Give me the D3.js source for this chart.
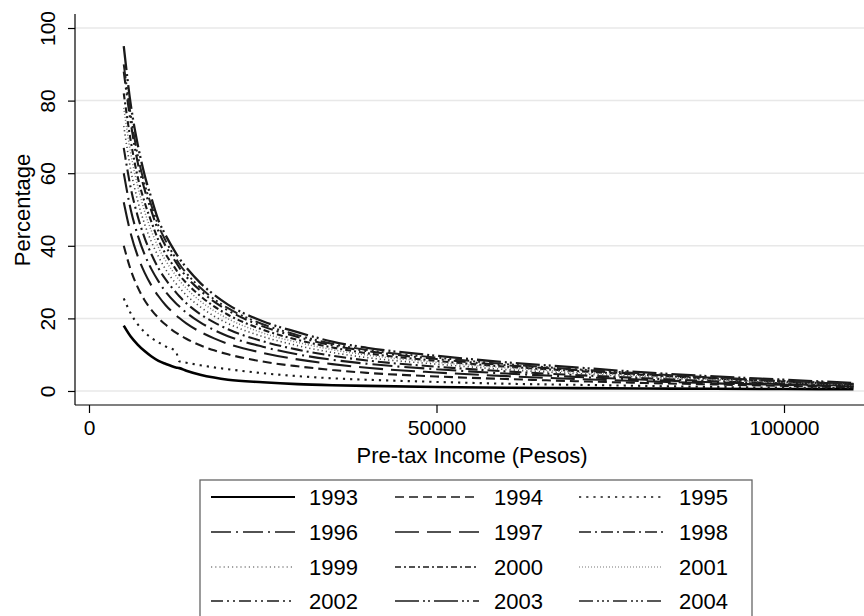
<!DOCTYPE html>
<html>
<head>
<meta charset="utf-8">
<script src="https://cdn.jsdelivr.net/npm/d3@7"></script>
<style>
  body { margin: 0; background: #fff; }
  svg { display: block; }
  text { font-family: "Liberation Sans", Arial, Helvetica, sans-serif; fill: #000; }
</style>
</head>
<body>
<svg id="chart" width="864" height="616"></svg>
<script>
// Pre-tax income grid (pesos)
const income = [5000, 6000, 7000, 8000, 9000, 10000, 11000, 12500, 13000, 14000, 16000, 18000,
                20000, 25000, 30000, 35000, 40000, 50000, 60000, 70000, 80000, 90000, 100000, 110000];

// Percentage by year at each income level
const v1993 = [18, 15.0, 12.8, 11.0, 9.5, 8.3, 7.5, 6.5, 6.3, 5.6, 4.5, 3.7, 3.1, 2.4, 1.9, 1.6, 1.4, 1.1, 0.9, 0.8, 0.7, 0.6, 0.55, 0.5];
const v1994 = [40, 33.4, 28.6, 25.0, 22.3, 20.1, 18.3, 16.1, 15.5, 14.4, 12.6, 11.2, 10.1, 8.1, 6.8, 5.8, 5.0, 4.0, 3.3, 2.7, 2.2, 1.8, 1.4, 1.0];
const v1995 = [25.5, 21.4, 18.4, 16.2, 14.6, 13.4, 12.3, 10.9, 8.2, 7.8, 7.1, 6.5, 6.0, 4.9, 4.1, 3.5, 3.1, 2.5, 2.0, 1.7, 1.4, 1.1, 0.9, 0.8];
const v1996 = [60, 50, 43, 37.6, 33.5, 30.2, 27.4, 24.2, 23.3, 21.6, 18.9, 16.8, 15.1, 12.2, 10.1, 8.6, 7.5, 6.0, 4.8, 3.9, 3.1, 2.4, 1.9, 1.4];
const v1997 = [52, 43.4, 37.2, 32.6, 29, 26.1, 23.7, 20.9, 20.1, 18.6, 16.3, 14.5, 13, 10.5, 8.7, 7.4, 6.4, 5.1, 4.1, 3.3, 2.7, 2.1, 1.7, 1.2];
const v1998 = [67, 56, 48.2, 42.2, 37.6, 33.8, 30.8, 27.2, 26.1, 24.2, 21.2, 18.9, 17, 13.7, 11.4, 9.7, 8.4, 6.7, 5.4, 4.4, 3.5, 2.7, 2.1, 1.5];
const v1999 = [73, 61, 52.5, 46, 41, 37, 33.6, 29.6, 28.5, 26.4, 23.2, 20.6, 18.6, 15, 12.5, 10.6, 9.2, 7.4, 5.9, 4.8, 3.8, 3.0, 2.3, 1.6];
const v2000 = [82, 69, 59, 52, 46.5, 41.5, 37.8, 33.5, 32, 29.8, 26.2, 23.3, 21, 16.9, 14.1, 12, 10.4, 8.3, 6.7, 5.5, 4.4, 3.4, 2.6, 1.8];
const v2001 = [78, 65.5, 56.5, 49.5, 44, 39.5, 36, 31.8, 30.5, 28.3, 24.8, 22.1, 19.9, 16, 13.4, 11.4, 9.9, 7.9, 6.4, 5.2, 4.1, 3.2, 2.4, 1.7];
const v2002 = [88, 74, 63, 55.5, 49.5, 44, 40, 35.5, 34, 31.5, 27.7, 24.6, 22.2, 17.8, 14.9, 12.6, 11.0, 8.8, 7.1, 5.8, 4.6, 3.6, 2.7, 1.9];
const v2003 = [95, 79, 68, 59.5, 53, 47, 43, 38, 36.5, 34, 29.8, 26.5, 23.8, 19.2, 16.2, 13.6, 11.9, 9.7, 7.9, 6.5, 5.1, 4.0, 3.1, 2.2];
const v2004 = [90, 76, 65, 57, 51, 45.5, 41.5, 36.5, 35, 32.5, 28.5, 25.3, 22.8, 18.4, 15.4, 13.0, 11.3, 9.2, 7.4, 6.0, 4.8, 3.7, 2.8, 2.0];

const years = ["1993", "1994", "1995", "1996", "1997", "1998", "1999", "2000", "2001", "2002", "2003", "2004"];
const seriesValues = [v1993, v1994, v1995, v1996, v1997, v1998, v1999, v2000, v2001, v2002, v2003, v2004];

const yTicks = [0, 20, 40, 60, 80, 100];
const xTicks = [0, 50000, 100000];

// line pattern for each year (curve width, legend width)
const styles = {
  "1993": { dash: null,                 color: "#000", width: 2.6, lw: 1.8 },
  "1994": { dash: "9,5",                color: "#1a1a1a", width: 2.1, lw: 1.5 },
  "1995": { dash: "2.2,5",              color: "#1a1a1a", width: 2.1, lw: 1.5 },
  "1996": { dash: "20,5,2,5",           color: "#1a1a1a", width: 2.1, lw: 1.5 },
  "1997": { dash: "24,8",               color: "#1a1a1a", width: 2.1, lw: 1.5 },
  "1998": { dash: "12,4,2,4",           color: "#1a1a1a", width: 2.1, lw: 1.5 },
  "1999": { dash: "1.2,3",              color: "#444", width: 1.6, lw: 1.2 },
  "2000": { dash: "6,3,2,3",            color: "#1a1a1a", width: 2.1, lw: 1.5 },
  "2001": { dash: "1,2",                color: "#777", width: 1.5, lw: 1.1 },
  "2002": { dash: "12,4,2,4,2,4",       color: "#1a1a1a", width: 2.1, lw: 1.5 },
  "2003": { dash: "24,4,2,3,2,4",       color: "#1a1a1a", width: 2.3, lw: 1.6 },
  "2004": { dash: "14,4,2,3,2,3,2,4",   color: "#222", width: 2.0, lw: 1.5 }
};

const svg = d3.select("#chart");

const x = d3.scaleLinear().domain([-2014, 111510]).range([75, 864]);
const y = d3.scaleLinear().domain([-3.86, 103.86]).range([405, 14]);

// gridlines
svg.append("g")
  .selectAll("line")
  .data(yTicks)
  .join("line")
  .attr("x1", 75).attr("x2", 864)
  .attr("y1", d => y(d)).attr("y2", d => y(d))
  .attr("stroke", "#e8e8e8").attr("stroke-width", 1.5);

// curves
const line = d3.line()
  .x(d => x(d[0]))
  .y(d => y(d[1]))
  .curve(d3.curveMonotoneX);

years.forEach((yr, i) => {
  const st = styles[yr];
  const pts = income.map((inc, j) => [inc, seriesValues[i][j]]);
  svg.append("path")
    .datum(pts)
    .attr("d", line)
    .attr("fill", "none")
    .attr("stroke", st.color)
    .attr("stroke-width", st.width)
    .attr("stroke-dasharray", st.dash);
});

// y axis
const yAxis = svg.append("g")
  .attr("transform", "translate(75,0)")
  .call(d3.axisLeft(y).tickValues(yTicks).tickSize(7).tickFormat(d3.format("d")));
yAxis.select(".domain").attr("stroke", "#000").attr("stroke-width", 1.2).attr("d", "M0,14V405");
yAxis.selectAll(".tick line").attr("stroke", "#000").attr("stroke-width", 1.2);
yAxis.selectAll(".tick text")
  .attr("x", 0).attr("dy", 0)
  .attr("transform", "translate(-20,0) rotate(-90)")
  .attr("text-anchor", "middle")
  .attr("font-size", 21)
  .attr("font-family", "Liberation Sans, Arial, sans-serif");

// x axis
const xAxis = svg.append("g")
  .attr("transform", "translate(0,405)")
  .call(d3.axisBottom(x).tickValues(xTicks).tickSize(8).tickFormat(d3.format("d")));
xAxis.select(".domain").attr("stroke", "#000").attr("stroke-width", 1.2).attr("d", "M75,0H864");
xAxis.selectAll(".tick line").attr("stroke", "#000").attr("stroke-width", 1.2);
xAxis.selectAll(".tick text")
  .attr("y", 30).attr("dy", 0)
  .attr("font-size", 21)
  .attr("font-family", "Liberation Sans, Arial, sans-serif");

// axis titles
svg.append("text")
  .attr("transform", "translate(30,210) rotate(-90)")
  .attr("text-anchor", "middle")
  .attr("font-size", 22)
  .text("Percentage");

svg.append("text")
  .attr("x", 472).attr("y", 463)
  .attr("text-anchor", "middle")
  .attr("font-size", 22)
  .text("Pre-tax Income (Pesos)");

// legend
const legend = svg.append("g");
legend.append("rect")
  .attr("x", 200).attr("y", 480)
  .attr("width", 552).attr("height", 160)
  .attr("fill", "#fff").attr("stroke", "#666").attr("stroke-width", 1.3);

const colLineX = [211, 395, 579];
const colTextX = [309, 494, 679];
const rowY = [497, 532, 567, 601];

years.forEach((yr, i) => {
  const r = Math.floor(i / 3), c = i % 3;
  const st = styles[yr];
  legend.append("line")
    .attr("x1", colLineX[c]).attr("x2", colLineX[c] + 84)
    .attr("y1", rowY[r]).attr("y2", rowY[r])
    .attr("stroke", st.color)
    .attr("stroke-width", st.lw)
    .attr("stroke-dasharray", st.dash);
  legend.append("text")
    .attr("x", colTextX[c]).attr("y", rowY[r] + 8)
    .attr("font-size", 22)
    .text(yr);
});
</script>
</body>
</html>
